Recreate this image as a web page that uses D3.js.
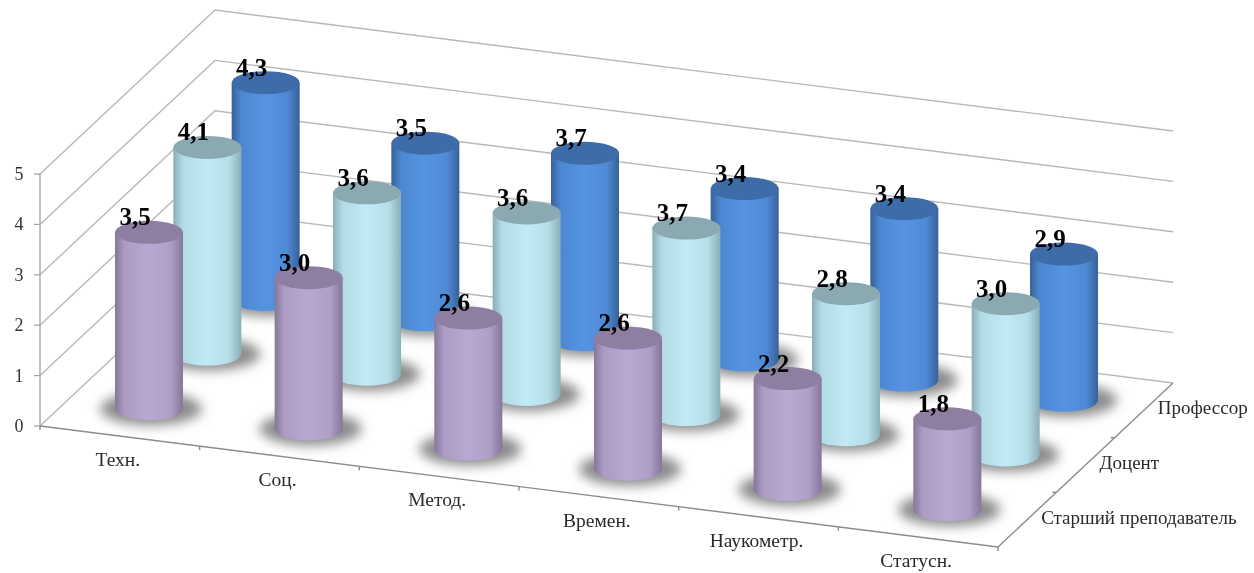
<!DOCTYPE html>
<html>
<head>
<meta charset="utf-8">
<script src="https://cdnjs.cloudflare.com/ajax/libs/d3/7.8.5/d3.min.js"></script>
<style>
    html, body { margin:0; padding:0; background:#fff; }
    svg { display:block; }
    text { font-family:"Liberation Serif", serif; }
</style>
</head>
<body>
<div id="chart"></div>
<script>
//DATA
const categories = ["Техн.", "Соц.", "Метод.", "Времен.", "Наукометр.", "Статусн."];
const seriesNames = ["Старший преподаватель", "Доцент", "Профессор"];
const seniorLecturer = [3.5, 3.0, 2.6, 2.6, 2.2, 1.8];
const docent = [4.1, 3.6, 3.6, 3.7, 2.8, 3.0];
const professor = [4.3, 3.5, 3.7, 3.4, 3.4, 2.9];
const valueTicks = [0, 1, 2, 3, 4, 5];

const seriesValues = [seniorLecturer, docent, professor];
const seriesColours = [
    { id:"lecturer", edge:"#85769a", mid:"#b9a8d2", top:"#8e7ea2" },
    { id:"docent", edge:"#8aaeb7", mid:"#c0eaf4", top:"#8aa9b1" },
    { id:"professor", edge:"#36619a", mid:"#5594e3", top:"#3d6ca8" }
];

//dimensions
const width = 1254;
const height = 573;
const origin = { x:40, y:426 };
const rx = 34;
const ry = 11.5;

//scales - oblique projection, each data axis adds its own screen offset
const catX = d3.scaleLinear().domain([0, categories.length]).range([0, 958]);
const catY = d3.scaleLinear().domain([0, categories.length]).range([0, 121]);
const serX = d3.scaleLinear().domain([0, seriesNames.length]).range([0, 175]);
const serY = d3.scaleLinear().domain([0, seriesNames.length]).range([0, -164]);
const valY = d3.scaleLinear().domain([0, 5]).range([0, -252]);

const project = (cat, ser, val) => [
    origin.x + catX(cat) + serX(ser),
    origin.y + catY(cat) + serY(ser) + valY(val)
];
const line = d3.line();

const svg = d3.select("#chart").append("svg")
    .attr("width", width)
    .attr("height", height);

//defs
const defs = svg.append("defs");
defs.append("filter").attr("id", "soft")
    .attr("filterUnits", "userSpaceOnUse")
    .attr("x", 0).attr("y", 0).attr("width", width).attr("height", height)
    .append("feGaussianBlur").attr("stdDeviation", 0.6);
defs.append("filter").attr("id", "shadow-blur")
    .attr("x", "-30%").attr("y", "-60%").attr("width", "160%").attr("height", "220%")
    .append("feGaussianBlur").attr("stdDeviation", 6);

seriesColours.forEach(c => {
    const grad = defs.append("linearGradient").attr("id", `body-${c.id}`);
    [[0, c.edge], [0.14, d3.interpolateRgb(c.edge, c.mid)(0.75)], [0.5, c.mid],
     [0.82, d3.interpolateRgb(c.edge, c.mid)(0.8)], [1, c.edge]].forEach(([offset, colour]) => {
        grad.append("stop").attr("offset", offset).attr("stop-color", colour);
    });
});

const chartG = svg.append("g").attr("filter", "url(#soft)");

//walls
const wallsG = chartG.append("g").attr("fill", "none");
wallsG.selectAll("path.grid").data(valueTicks)
    .join("path")
        .attr("class", "grid")
        .attr("stroke", "#b8b8b8")
        .attr("stroke-width", 1.4)
        .attr("d", v => line([
            project(0, 0, v),
            project(0, seriesNames.length, v),
            project(categories.length, seriesNames.length, v)
        ]));

//value axis
wallsG.append("path")
    .attr("stroke", "#a8a8a8")
    .attr("stroke-width", 1.4)
    .attr("d", line([project(0, 0, 0), project(0, 0, 5)]));
wallsG.selectAll("path.value-tick").data(valueTicks)
    .join("path")
        .attr("class", "value-tick")
        .attr("stroke", "#a0a0a0")
        .attr("stroke-width", 1.2)
        .attr("d", v => {
            const [x, y] = project(0, 0, v);
            return line([[x - 6, y], [x, y]]);
        });

//floor edges
const floorG = chartG.append("g").attr("fill", "none").attr("stroke", "#8c8c8c").attr("stroke-width", 1.4);
floorG.append("path").attr("d", line([project(0, 0, 0), project(categories.length, 0, 0)]));
floorG.append("path").attr("d", line([project(categories.length, 0, 0), project(categories.length, seriesNames.length, 0)]));
floorG.selectAll("path.cat-tick").data(d3.range(categories.length + 1))
    .join("path")
        .attr("class", "cat-tick")
        .attr("d", i => {
            const [x, y] = project(i, 0, 0);
            return line([[x, y], [x, y + 4]]);
        });
floorG.selectAll("path.ser-tick").data(d3.range(1, seriesNames.length))
    .join("path")
        .attr("class", "ser-tick")
        .attr("d", j => {
            const [x, y] = project(categories.length, j, 0);
            return line([[x, y], [x - 4, y]]);
        });

//columns, back row first
const rows = d3.range(seriesNames.length).reverse();
rows.forEach(j => {
    const colours = seriesColours[j];
    const rowG = chartG.append("g").attr("class", `row-${colours.id}`);
    const columns = seriesValues[j].map((value, i) => {
        const [x, y0] = project(i + 0.5, j + 0.5, 0);
        const [, y1] = project(i + 0.5, j + 0.5, value);
        return { value, x, y0, y1 };
    });

    rowG.selectAll("ellipse.shadow").data(columns)
        .join("ellipse")
            .attr("class", "shadow")
            .attr("cx", d => d.x + 2)
            .attr("cy", d => d.y0)
            .attr("rx", rx + 17)
            .attr("ry", ry + 5)
            .attr("fill", "#8c8c8c")
            .attr("filter", "url(#shadow-blur)");

    rowG.selectAll("path.body").data(columns)
        .join("path")
            .attr("class", "body")
            .attr("fill", `url(#body-${colours.id})`)
            .attr("d", d => `M${d.x - rx},${d.y1}L${d.x - rx},${d.y0}A${rx},${ry} 0 0 0 ${d.x + rx},${d.y0}L${d.x + rx},${d.y1}Z`);

    rowG.selectAll("ellipse.top").data(columns)
        .join("ellipse")
            .attr("class", "top")
            .attr("cx", d => d.x)
            .attr("cy", d => d.y1)
            .attr("rx", rx)
            .attr("ry", ry)
            .attr("fill", colours.top);
});

//labels
const labelsG = chartG.append("g");
rows.forEach(j => {
    labelsG.append("g").selectAll("text").data(seriesValues[j])
        .join("text")
            .attr("x", (d, i) => project(i + 0.5, j + 0.5, d)[0] - 14)
            .attr("y", (d, i) => project(i + 0.5, j + 0.5, d)[1] - 7)
            .attr("text-anchor", "middle")
            .attr("font-size", 25)
            .attr("font-weight", "bold")
            .attr("fill", "#000")
            .text(d => d.toFixed(1).replace(".", ","));
});

labelsG.selectAll("text.value-label").data(valueTicks)
    .join("text")
        .attr("class", "value-label")
        .attr("x", v => project(0, 0, v)[0] - 21)
        .attr("y", v => project(0, 0, v)[1] + 6)
        .attr("text-anchor", "middle")
        .attr("font-size", 18)
        .attr("fill", "#333")
        .text(v => v);

labelsG.selectAll("text.cat-label").data(categories)
    .join("text")
        .attr("class", "cat-label")
        .attr("x", (d, i) => project(i + 0.5, 0, 0)[0] - 2)
        .attr("y", (d, i) => project(i + 0.5, 0, 0)[1] + 30)
        .attr("text-anchor", "middle")
        .attr("font-size", 19.5)
        .attr("fill", "#2a2a2a")
        .text(d => d);

labelsG.selectAll("text.ser-label").data(seriesNames)
    .join("text")
        .attr("class", "ser-label")
        .attr("x", (d, j) => project(categories.length, j + 0.5, 0)[0] + 14)
        .attr("y", (d, j) => project(categories.length, j + 0.5, 0)[1] + 4)
        .attr("font-size", 19)
        .attr("fill", "#2a2a2a")
        .text(d => d);
</script>
</body>
</html>
